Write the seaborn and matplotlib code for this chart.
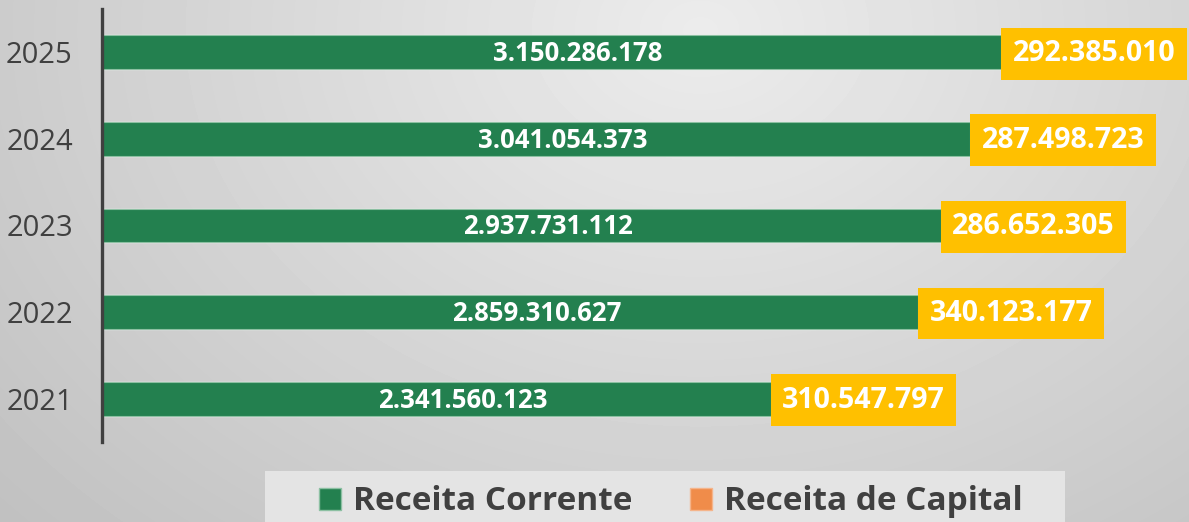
import numpy as np
import matplotlib
matplotlib.use("Agg")
import matplotlib.pyplot as plt
import seaborn as sns
from matplotlib.patches import Patch, Rectangle

years = ["2021", "2022", "2023", "2024", "2025"]
receita_corrente = [2341560123, 2859310627, 2937731112, 3041054373, 3150286178]
receita_capital = [310547797, 340123177, 286652305, 287498723, 292385010]

GREEN = "#23804F"
ORANGE = "#F08C4A"
YELLOW = "#FFC000"
DARK = "#404040"


def fmt(v):
    return f"{v:,}".replace(",", ".")


sns.set_theme(style="white")
plt.rcParams['font.family'] = ['Open Sans', 'DejaVu Sans']

fig = plt.figure(figsize=(11.89, 5.22), dpi=100)

# radial gray background
bg = fig.add_axes([0, 0, 1, 1], zorder=-10)
yy, xx = np.mgrid[0:522, 0:1189]
dist = np.sqrt((xx - 700) ** 2 + ((yy - 30) * 1.3) ** 2)
shade = 0.925 - 0.13 * dist / 720
bg.imshow(shade, cmap="gray", vmin=0, vmax=1, aspect="auto",
          interpolation="bilinear")
bg.axis("off")

ax = fig.add_axes([102 / 1189, 1 - 442 / 522, 1 - 102 / 1189, 433 / 522])
ax.patch.set_alpha(0)

order = years[::-1]
totals = [c + k for c, k in zip(receita_corrente, receita_capital)]

sns.barplot(x=totals, y=years, order=order, orient="h", color=ORANGE,
            saturation=1, width=0.39, ax=ax)
sns.barplot(x=receita_corrente, y=years, order=order, orient="h", color=GREEN,
            saturation=1, width=0.39, edgecolor="#8cc0a2", linewidth=0.8, ax=ax)

ax.set_xlim(0, 1087 / 285.5 * 1e9)
ax.set_ylim(4.5, -0.5)

for i, yr in enumerate(order):
    j = years.index(yr)
    c = receita_corrente[j]
    k = receita_capital[j]
    ax.annotate(fmt(c), (c / 2, i), xytext=(19, -1), textcoords="offset points",
                ha="center", va="center", color="white", fontsize=18.5,
                fontweight="bold")
    ax.annotate(fmt(k), (c, i), xytext=(0.4 * 20.5, -1), textcoords="offset points",
                ha="left", va="center", color="white", fontsize=20.5,
                fontweight="bold",
                bbox=dict(boxstyle="square,pad=0.4", fc=YELLOW, ec="none"))

ax.set_xlabel("")
ax.set_ylabel("")
ax.set_xticks([])
ax.tick_params(axis="y", length=0, pad=21, labelsize=21, labelcolor=DARK)
for s in ["top", "right", "bottom"]:
    ax.spines[s].set_visible(False)
ax.spines["left"].set_color(DARK)
ax.spines["left"].set_linewidth(2.4)

# legend panel
fig.add_artist(Rectangle((265 / 1189, 0), 800 / 1189, 51 / 522,
                         transform=fig.transFigure, fc="#e4e4e4", ec="none",
                         zorder=1))
handles = [Patch(facecolor=GREEN, edgecolor="#8cc0a2", label="Receita Corrente"),
           Patch(facecolor=ORANGE, edgecolor="#f5b48a", label="Receita de Capital")]
leg = fig.legend(handles=handles, loc="center",
                 bbox_to_anchor=(671 / 1189, 1 - 502 / 522),
                 ncol=2, frameon=False, fontsize=24,
                 handlelength=0.66, handleheight=0.66, handletextpad=0.36,
                 columnspacing=1.75, borderpad=0, borderaxespad=0)
leg.set_zorder(2)
for t in leg.get_texts():
    t.set_fontweight("bold")
    t.set_color(DARK)

fig.savefig("out.png", dpi=100)
